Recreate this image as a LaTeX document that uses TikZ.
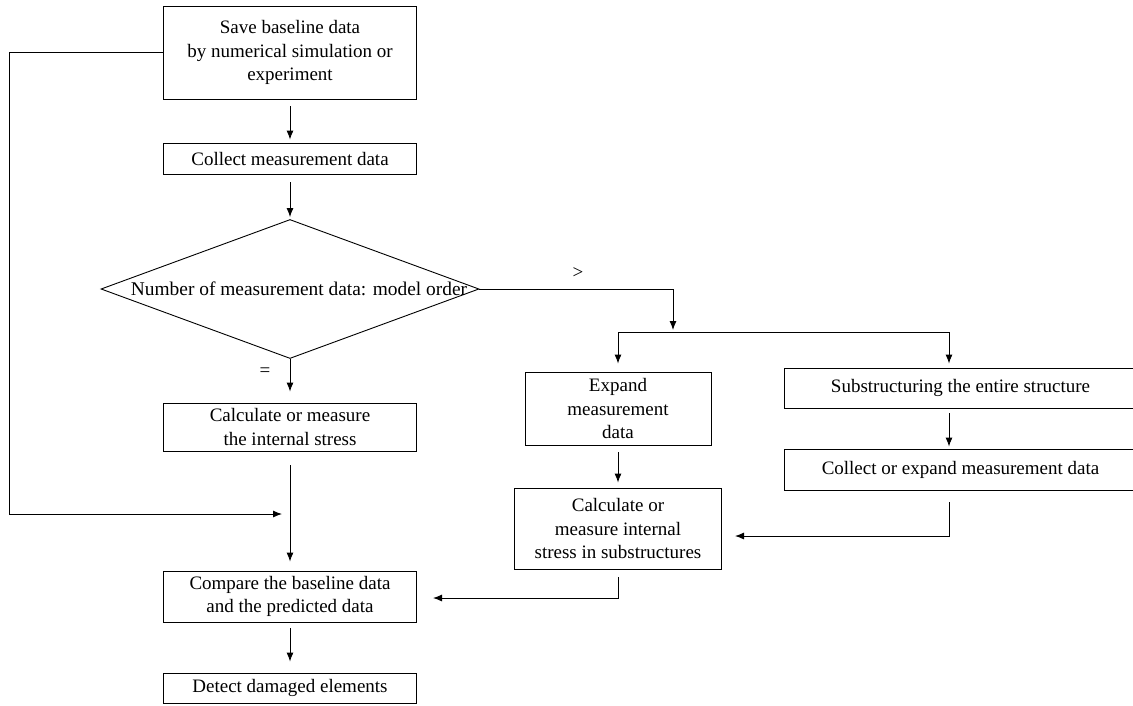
\documentclass[tikz,border=0pt]{standalone}
\usepackage{fontspec}
\setmainfont{Liberation Serif}
\usetikzlibrary{arrows.meta,shapes.geometric,calc}
\begin{document}
\begin{tikzpicture}[x=1pt,y=-1pt,
  txt/.style={font=\fontsize{19}{23.5}\selectfont},
  box/.style={txt,draw,line width=0.9pt,rectangle,inner sep=0pt,align=center},
  arr/.style={line width=0.9pt,-{Latex[length=9pt,width=7pt]}},
  ln/.style={line width=0.9pt}]
\useasboundingbox (0,0) rectangle (1133,705);
% main column
\node[box,minimum width=253pt,minimum height=93pt] (b1) at (290,52.5) {Save baseline data\\by numerical simulation or\\experiment};
\node[box,minimum width=253pt,minimum height=31pt] (b2) at (290,158.5) {Collect measurement data};
\node[draw,diamond,line width=0.9pt,inner sep=0pt,minimum width=378pt,minimum height=139pt] (dec) at (290,289) {};
\node[font=\fontsize{19.4}{24}\selectfont,xshift=9pt] (dect) at (dec.center) {Number of measurement data: model order};
\node[box,minimum width=253pt,minimum height=48pt] (c1) at (290,427) {Calculate or measure\\the internal stress};
\node[box,minimum width=253pt,minimum height=51pt] (cmp) at (290,596.5) {Compare the baseline data\\and the predicted data};
\node[box,minimum width=253pt,minimum height=30pt] (det) at (290,688) {Detect damaged elements};
% right part
\node[box,minimum width=186pt,minimum height=73pt] (exp) at (618,408.5) {Expand\\measurement\\data};
\node[box,minimum width=207pt,minimum height=81pt] (cs) at (618,528.5) {Calculate or\\measure internal\\stress in substructures};
\node[box,minimum width=353pt,minimum height=40pt] (sub) at (960.5,388) {Substructuring the entire structure};
\node[box,minimum width=353pt,minimum height=41pt] (ce) at (960.5,469.5) {Collect or expand measurement data};
% labels
\node[txt] (eq) at (265,372) {=};
\node[txt] (gt) at (578,273) {>};
% coordinates
\coordinate (lp) at (9,514);
\coordinate (lpend) at (282,514);
\coordinate (r2) at (673,330);
\coordinate (h1) at (618,332);
\coordinate (h2) at (949,332);
\coordinate (a1) at (735,536);
\coordinate (a2) at (433,598);
% connectors
\draw[arr,shorten <=7pt,shorten >=3pt] (b1) -- (b2);
\draw[arr,shorten <=8pt,shorten >=2pt] (b2) -- (dec);
\draw[arr,shorten >=11pt] (dec.south) -- (c1.north);
\draw[arr,shorten <=14pt,shorten >=9pt] (c1) -- (cmp);
\draw[arr,shorten <=6pt,shorten >=11pt] (cmp) -- (det);
\draw[arr] (b1.west) -| (lp) -- (lpend);
\draw[arr] (dec.east) -| (r2);
\draw[ln] (h1) -- (h2);
\draw[arr,shorten >=8pt] (h1) -- (exp.north);
\draw[arr,shorten >=4pt] (h2) -- (h2 |- sub.north);
\draw[arr,shorten <=7pt,shorten >=5pt] (exp) -- (cs);
\draw[arr,shorten <=5pt,shorten >=2pt] (sub.south -| h2) -- (ce.north -| h2);
\draw[arr,shorten <=12pt] (ce.south -| h2) |- (a1);
\draw[arr,shorten <=8pt] (cs.south) |- (a2);
\end{tikzpicture}
\end{document}
